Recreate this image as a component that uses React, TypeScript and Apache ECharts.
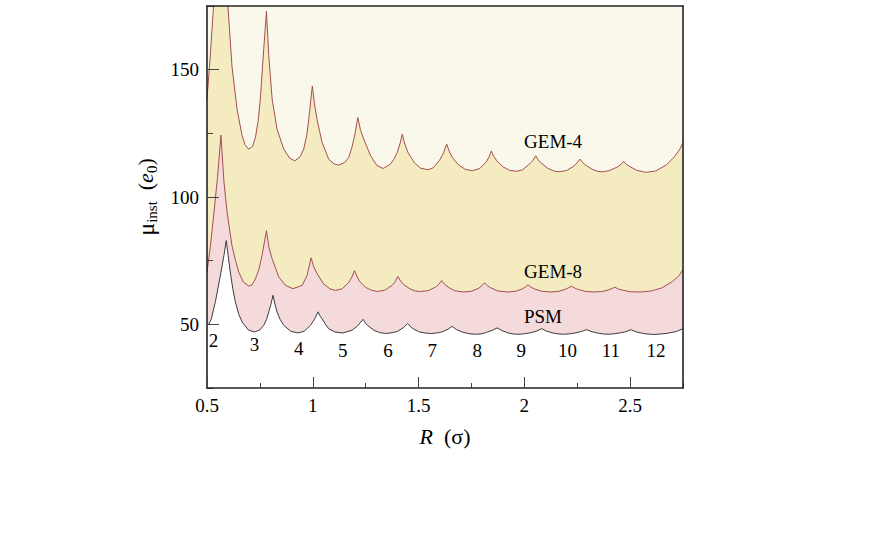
import React, { useEffect, useRef } from "react";
import * as echarts from "echarts";

// R (σ), μ_inst (e0) pairs
const gem4Points: [number, number][] = [
  [0.5, 138.4], [0.515, 155], [0.531, 175], [0.565, 205], [0.599, 175],
  [0.618, 151.4], [0.642, 134.5], [0.666, 124.0], [0.68, 120.5], [0.697, 118.8], [0.715, 119.8], [0.729, 123.4], [0.742, 130], [0.752, 138.4], [0.768, 157.9], [0.781, 172.9],
  [0.792, 155.3], [0.808, 138.4], [0.831, 126.6], [0.863, 118.8], [0.89, 115.3], [0.915, 114.2], [0.94, 115.8], [0.957, 118.8], [0.971, 124], [0.981, 130.5], [0.998, 143.6],
  [1.008, 136.5], [1.02, 130.5], [1.044, 121.4], [1.075, 114.9], [1.1, 113.0], [1.123, 112.5], [1.15, 113.5], [1.17, 115.5], [1.185, 119.5], [1.2, 125.0], [1.213, 131.2],
  [1.225, 126.5], [1.241, 122.7], [1.273, 116.2], [1.304, 112.3], [1.333, 111.2], [1.367, 112.9], [1.385, 115.0], [1.399, 117.5], [1.412, 120.8], [1.423, 124.7],
  [1.435, 120.8], [1.45, 117.5], [1.48, 113.5], [1.51, 111.3], [1.544, 110.7], [1.57, 111.5], [1.6, 114.5], [1.618, 117.3], [1.633, 120.8],
  [1.645, 118.0], [1.66, 115.5], [1.69, 112.5], [1.72, 110.9], [1.754, 110.3], [1.79, 111.2], [1.82, 113.8], [1.834, 115.8], [1.844, 118.1],
  [1.855, 116.0], [1.87, 114.2], [1.9, 111.8], [1.93, 110.5], [1.962, 110.1], [1.99, 110.6], [2.02, 112.6], [2.04, 114.3], [2.054, 116.2],
  [2.065, 114.6], [2.08, 113.3], [2.11, 111.3], [2.14, 110.2], [2.164, 109.9], [2.2, 110.4], [2.23, 111.9], [2.25, 113.4], [2.262, 114.9],
  [2.275, 113.6], [2.29, 112.5], [2.32, 110.9], [2.345, 110.1], [2.369, 109.9], [2.4, 110.3], [2.44, 111.8], [2.457, 112.8], [2.469, 114.0],
  [2.482, 112.8], [2.5, 111.9], [2.53, 110.5], [2.574, 109.7], [2.62, 110.2], [2.67, 112.5], [2.71, 115.8], [2.735, 118.8], [2.75, 121.4],
];

const gem8Points: [number, number][] = [
  [0.5, 70.5], [0.515, 80], [0.533, 94], [0.55, 108], [0.566, 124.3],
  [0.58, 106], [0.595, 94.0], [0.618, 80.9], [0.635, 75], [0.65, 70.5], [0.672, 66.6], [0.698, 65.0], [0.714, 65.6], [0.729, 67.9], [0.745, 71.5], [0.76, 77.0], [0.781, 86.8],
  [0.792, 80.5], [0.808, 75.7], [0.839, 68.6], [0.871, 65.3], [0.906, 64.0], [0.95, 65.3], [0.973, 69.2], [0.992, 76.1],
  [1.005, 72.5], [1.02, 70.0], [1.05, 66.0], [1.08, 64.0], [1.107, 63.3], [1.14, 64.0], [1.17, 66.5], [1.185, 68.6], [1.197, 71.1],
  [1.208, 69.0], [1.22, 67.0], [1.25, 64.5], [1.28, 63.3], [1.305, 62.9], [1.34, 63.4], [1.375, 65.3], [1.39, 66.8], [1.402, 68.8],
  [1.415, 67.0], [1.43, 65.6], [1.46, 63.9], [1.485, 63.1], [1.509, 62.9], [1.545, 63.2], [1.58, 64.6], [1.597, 65.8], [1.609, 67.2],
  [1.622, 65.8], [1.64, 64.6], [1.67, 63.2], [1.714, 62.7], [1.75, 63.0], [1.785, 64.2], [1.8, 65.2], [1.812, 66.3],
  [1.825, 65.2], [1.84, 64.4], [1.875, 63.1], [1.92, 62.7], [1.96, 63.0], [1.99, 63.9], [2.005, 64.6], [2.017, 65.5],
  [2.03, 64.7], [2.045, 64.0], [2.08, 63.0], [2.125, 62.7], [2.165, 63.0], [2.195, 63.8], [2.21, 64.4], [2.223, 65.0],
  [2.235, 64.4], [2.25, 63.8], [2.29, 62.9], [2.33, 62.7], [2.37, 62.9], [2.4, 63.6], [2.415, 64.1], [2.428, 64.6],
  [2.44, 64.0], [2.46, 63.5], [2.5, 62.8], [2.551, 62.7], [2.6, 63.1], [2.65, 64.3], [2.7, 66.8], [2.73, 69.0], [2.75, 71.5],
];

const psmPoints: [number, number][] = [
  [0.5, 49.8], [0.51, 50.2], [0.52, 52.0], [0.54, 59.0], [0.565, 70.0], [0.58, 77.0], [0.591, 82.9],
  [0.6, 77.0], [0.61, 70.5], [0.622, 64.0], [0.634, 58.8], [0.65, 54.0], [0.666, 50.9], [0.697, 47.7], [0.725, 47.0], [0.75, 47.8], [0.768, 49.6], [0.782, 52.0], [0.792, 54.9], [0.802, 57.8], [0.812, 61.4],
  [0.821, 58.0], [0.831, 54.9], [0.845, 52.0], [0.863, 49.6], [0.895, 47.3], [0.93, 46.6], [0.96, 47.3], [0.989, 49.6], [1.008, 52.0], [1.025, 54.9],
  [1.034, 53.3], [1.044, 52.2], [1.06, 50.0], [1.075, 48.3], [1.105, 47.0], [1.142, 46.6], [1.186, 47.7], [1.212, 49.4], [1.238, 52.0],
  [1.248, 50.6], [1.26, 49.5], [1.29, 47.6], [1.315, 46.8], [1.344, 46.4], [1.375, 46.7], [1.4, 47.2], [1.43, 48.8], [1.449, 50.3],
  [1.47, 48.5], [1.5, 47.1], [1.53, 46.6], [1.557, 46.4], [1.585, 46.6], [1.61, 47.0], [1.64, 48.1], [1.659, 49.2],
  [1.68, 47.9], [1.71, 46.9], [1.74, 46.3], [1.77, 46.1], [1.8, 46.3], [1.82, 46.8], [1.85, 47.7], [1.872, 48.6],
  [1.895, 47.5], [1.925, 46.6], [1.95, 46.2], [1.975, 46.1], [2.0, 46.3], [2.03, 46.7], [2.06, 47.4], [2.082, 48.3],
  [2.105, 47.3], [2.14, 46.5], [2.165, 46.2], [2.188, 46.1], [2.215, 46.3], [2.24, 46.6], [2.27, 47.2], [2.294, 47.9],
  [2.32, 47.1], [2.35, 46.5], [2.375, 46.2], [2.401, 46.1], [2.425, 46.3], [2.45, 46.6], [2.48, 47.1], [2.503, 47.9],
  [2.53, 47.0], [2.57, 46.3], [2.614, 46.0], [2.67, 46.4], [2.72, 47.2], [2.75, 48.3],
];

// occupancy numbers written under the PSM curve
const occupancyN = ["2", "3", "4", "5", "6", "7", "8", "9", "10", "11", "12"];
const occupancyR = [0.531, 0.724, 0.934, 1.142, 1.355, 1.565, 1.778, 1.986, 2.204, 2.409, 2.622];
const occupancyV = [43.7, 42.2, 40.5, 39.8, 39.8, 39.8, 39.8, 39.8, 39.8, 39.8, 39.8];

// curve names
const curveNames = ["GEM-4", "GEM-8", "PSM"];
const curveNameR = [2.136, 2.136, 2.088];
const curveNameV = [121.7, 70.9, 52.9];

const X_MIN = 0.5;
const X_MAX = 2.75;
const Y_MIN = 25;
const Y_MAX = 175;

const FONT = "'Liberation Serif', 'Times New Roman', serif";
const CREAM = "#f9f8ea";
const YELLOW = "#f4ecc0";
const PINK = "#f4dadb";
const GEM_LINE = "#a34f52";
const PSM_LINE = "#3c3c3c";
const FRAME = "#222";
const TEXT = "#000";

export default function App() {
  const ref = useRef<HTMLDivElement>(null);

  useEffect(() => {
    if (!ref.current) return;
    const chart = echarts.init(ref.current, null, { renderer: "svg" });

    const labelData = [
      ...occupancyN.map((n, i) => ({ name: n, value: [occupancyR[i], occupancyV[i]] })),
      ...curveNames.map((n, i) => ({ name: n, value: [curveNameR[i], curveNameV[i]] })),
    ];

    chart.setOption({
      animation: false,
      backgroundColor: "#ffffff",
      textStyle: { fontFamily: FONT },
      grid: {
        left: 207,
        right: 197,
        top: 6,
        bottom: 146,
        containLabel: false,
        outerBoundsMode: "none",
      },
      xAxis: [
        {
          type: "value",
          min: X_MIN,
          max: X_MAX,
          interval: 0.5,
          position: "bottom",
          z: 10,
          axisLine: { show: true, onZero: false, lineStyle: { color: FRAME, width: 1.6 } },
          axisTick: { show: true, inside: true, length: 11, lineStyle: { color: "#444", width: 1 } },
          splitLine: { show: false },
          axisLabel: {
            show: true,
            margin: 8,
            color: TEXT,
            fontFamily: FONT,
            fontSize: 19,
            showMaxLabel: false,
            formatter: (v: number) => String(v),
          },
          name: "{i|R}{n|  (σ)}",
          nameLocation: "middle",
          nameGap: 37,
          nameTextStyle: {
            rich: {
              i: { fontFamily: FONT, fontSize: 22, fontStyle: "italic", color: TEXT },
              n: { fontFamily: FONT, fontSize: 22, color: TEXT },
            },
          },
        },
        {
          type: "value",
          min: X_MIN,
          max: X_MAX,
          interval: 0.25,
          position: "bottom",
          z: 9,
          axisLine: { show: false },
          axisTick: { show: true, inside: true, length: 5, lineStyle: { color: "#444", width: 1 } },
          axisLabel: { show: false },
          splitLine: { show: false },
        },
        {
          type: "value",
          min: X_MIN,
          max: X_MAX,
          position: "top",
          z: 10,
          axisLine: { show: true, onZero: false, lineStyle: { color: FRAME, width: 1.6 } },
          axisTick: { show: false },
          axisLabel: { show: false },
          splitLine: { show: false },
        },
      ],
      yAxis: [
        {
          type: "value",
          min: Y_MIN,
          max: Y_MAX,
          splitNumber: 3,
          position: "left",
          z: 10,
          axisLine: { show: true, onZero: false, lineStyle: { color: FRAME, width: 1.6 } },
          axisTick: { show: true, inside: true, length: 12, lineStyle: { color: "#444", width: 1 } },
          splitLine: { show: false },
          axisLabel: {
            show: true,
            margin: 8,
            color: TEXT,
            fontFamily: FONT,
            fontSize: 19,
            showMinLabel: false,
            showMaxLabel: false,
          },
          name: "{m|μ}{s|inst}{g|  (}{e|e}{s|0}{g|)}",
          nameLocation: "middle",
          nameGap: 43,
          nameTextStyle: {
            rich: {
              m: { fontFamily: FONT, fontSize: 24, lineHeight: 28, color: TEXT },
              g: { fontFamily: FONT, fontSize: 22, lineHeight: 28, color: TEXT },
              e: { fontFamily: FONT, fontSize: 22, lineHeight: 28, fontStyle: "italic", color: TEXT },
              s: { fontFamily: FONT, fontSize: 15, lineHeight: 15, color: TEXT, verticalAlign: "bottom" },
            },
          },
        },
        {
          type: "value",
          min: Y_MIN,
          max: Y_MAX,
          interval: 25,
          position: "left",
          z: 9,
          axisLine: { show: false },
          axisTick: { show: true, inside: true, length: 6, lineStyle: { color: "#444", width: 1 } },
          axisLabel: { show: false },
          splitLine: { show: false },
        },
        {
          type: "value",
          min: Y_MIN,
          max: Y_MAX,
          position: "right",
          z: 10,
          axisLine: { show: true, onZero: false, lineStyle: { color: FRAME, width: 1.6 } },
          axisTick: { show: false },
          axisLabel: { show: false },
          splitLine: { show: false },
        },
      ],
      series: [
        {
          name: "PSM",
          type: "line",
          z: 2,
          data: psmPoints,
          symbol: "none",
          clip: true,
          lineStyle: { color: PSM_LINE, width: 1 },
          areaStyle: { color: PINK, opacity: 1, origin: "end" },
        },
        {
          name: "GEM-8",
          type: "line",
          z: 2,
          data: gem8Points,
          symbol: "none",
          clip: true,
          lineStyle: { color: GEM_LINE, width: 1 },
          areaStyle: { color: YELLOW, opacity: 1, origin: "end" },
        },
        {
          name: "GEM-4",
          type: "line",
          z: 2,
          data: gem4Points,
          symbol: "none",
          clip: true,
          lineStyle: { color: GEM_LINE, width: 1 },
          areaStyle: { color: CREAM, opacity: 1, origin: "end" },
        },
        {
          name: "labels",
          type: "scatter",
          z: 20,
          zlevel: 0,
          data: labelData,
          symbolSize: 1,
          itemStyle: { opacity: 0 },
          silent: true,
          label: {
            show: true,
            position: "inside",
            formatter: "{b}",
            color: TEXT,
            opacity: 1,
            fontFamily: FONT,
            fontSize: 19,
          },
          labelLayout: { hideOverlap: false },
        },
      ],
    });

    return () => {
      chart.dispose();
    };
  }, []);

  return (
    <div
      ref={ref}
      style={{ position: "fixed", left: 0, top: 0, width: 880, height: 534, background: "#fff" }}
    />
  );
}
